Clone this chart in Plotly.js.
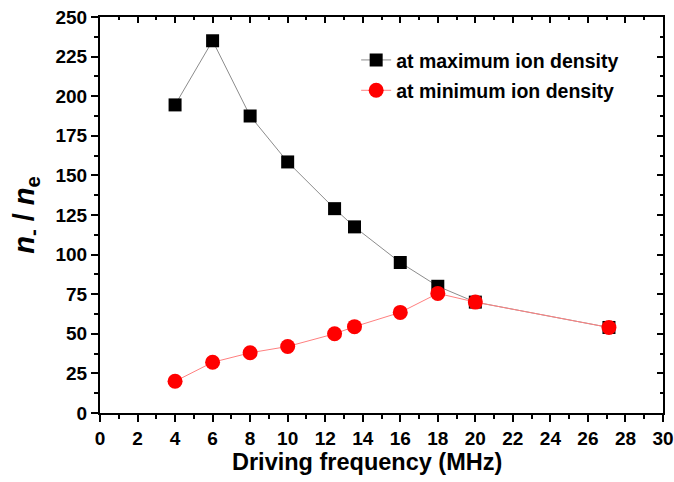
<!DOCTYPE html>
<html>
<head>
<meta charset="utf-8">
<script src="https://cdn.plot.ly/plotly-3.0.1.min.js"></script>
<style>
  html, body { margin: 0; padding: 0; background: #fff; }
  #chart { width: 674px; height: 482px; }
</style>
</head>
<body>
<div id="chart"></div>
<script>
// Negative-ion to electron density ratio versus driving frequency
const freqMax = [4, 6, 8, 10, 12.5, 13.56, 16, 18, 20, 27.12];
const ratioMax = [194.5, 235, 187.5, 158.5, 129, 117.5, 95, 80, 70, 54];

const freqMin = [4, 6, 8, 10, 12.5, 13.56, 16, 18, 20, 27.12];
const ratioMin = [20, 32, 38, 42, 50, 54.5, 63.5, 75.5, 70, 54];

const seriesNames = ['at maximum ion density', 'at minimum ion density'];

const xTickVals = [0, 2, 4, 6, 8, 10, 12, 14, 16, 18, 20, 22, 24, 26, 28, 30];
const yTickVals = [0, 25, 50, 75, 100, 125, 150, 175, 200, 225, 250];

const xTitle = 'Driving frequency (MHz)';

const family = 'Liberation Sans, Arial, sans-serif';
const bold = v => '<b>' + v + '</b>';

const traces = [
  {
    x: freqMax, y: ratioMax, name: bold(seriesNames[0]), legendgroup: 'a',
    type: 'scatter', mode: 'lines+markers',
    line: { color: '#8c8c8c', width: 1 },
    marker: { symbol: 'square', size: 13, color: '#000' }
  },
  {
    x: freqMin, y: ratioMin, name: bold(seriesNames[1]), legendgroup: 'b',
    type: 'scatter', mode: 'lines+markers',
    line: { color: '#ff8080', width: 1 },
    marker: { symbol: 'circle', size: 15, color: '#ff0000' }
  }
];

const axisCommon = {
  showgrid: false, zeroline: false, showline: true,
  linecolor: '#000', linewidth: 2,
  tickcolor: '#000', tickwidth: 2, ticklen: 7,
  tickfont: { family: family, size: 19, color: '#000' }
};

const layout = {
  width: 674, height: 482,
  margin: { l: 100, r: 11, t: 17, b: 69 },
  paper_bgcolor: '#fff', plot_bgcolor: '#fff',
  font: { family: family, color: '#000' },
  showlegend: true,
  legend: {
    x: 0.455, y: 0.94, xanchor: 'left', yanchor: 'top',
    bgcolor: 'rgba(0,0,0,0)',
    font: { family: family, size: 19.5, color: '#000' },
    traceorder: 'grouped', tracegroupgap: 2
  },
  xaxis: Object.assign({}, axisCommon, {
    range: [0, 30], tickmode: 'array', tickvals: xTickVals, ticktext: xTickVals.map(bold), ticks: 'outside',
    minor: { dtick: 1, tick0: 0, ticks: 'outside', ticklen: 4, tickcolor: '#000', tickwidth: 2 }
  }),
  yaxis: Object.assign({}, axisCommon, {
    range: [0, 250], tickmode: 'array', tickvals: yTickVals, ticktext: yTickVals.map(bold), ticks: 'outside',
    minor: { dtick: 12.5, tick0: 0, ticks: 'outside', ticklen: 4, tickcolor: '#000', tickwidth: 2 },
    title: { text: '<b><i>n</i><sub>-</sub> / <i>n</i><sub>e</sub></b>', font: { family: family, size: 29, color: '#000' }, standoff: 12 }
  }),
  xaxis2: Object.assign({}, axisCommon, {
    overlaying: 'x', side: 'top', anchor: 'y2',
    range: [0, 30], dtick: 2, tick0: 0, ticks: 'inside', ticklen: 6, showticklabels: false,
    minor: { dtick: 1, ticks: 'inside', ticklen: 3, tickcolor: '#000', tickwidth: 2 }
  }),
  yaxis2: Object.assign({}, axisCommon, {
    overlaying: 'y', side: 'right', anchor: 'x2',
    range: [0, 250], dtick: 25, tick0: 0, ticks: 'inside', ticklen: 6, showticklabels: false,
    minor: { dtick: 12.5, ticks: 'inside', ticklen: 3, tickcolor: '#000', tickwidth: 2 }
  }),
  // x-axis title placed as an annotation so it can sit slightly left of centre
  annotations: [{
    text: bold(xTitle), xref: 'paper', yref: 'paper',
    x: 0.474, y: -0.124, xanchor: 'center', yanchor: 'middle',
    showarrow: false, font: { family: family, size: 23.5, color: '#000' }
  }]
};

// invisible helper trace so the mirrored top/right axes are drawn
traces.push({ x: [0], y: [0], xaxis: 'x2', yaxis: 'y2', mode: 'markers', marker: { opacity: 0 }, showlegend: false, hoverinfo: 'skip' });

Plotly.newPlot('chart', traces, layout, { displayModeBar: false, staticPlot: true });
</script>
</body>
</html>
